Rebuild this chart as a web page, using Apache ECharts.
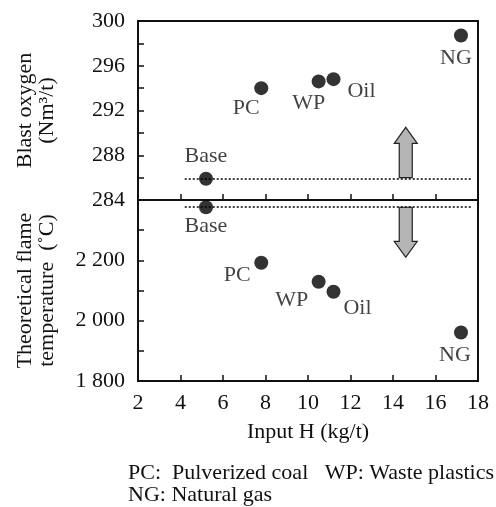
<!DOCTYPE html>
<html>
<head>
<meta charset="utf-8">
<script src="https://cdn.jsdelivr.net/npm/echarts@6/dist/echarts.min.js"></script>
<style>
  html, body { margin: 0; padding: 0; background: #fff; }
  #main { width: 496px; height: 507px; }
</style>
</head>
<body>
<div id="main"></div>
<script>
// data
var fuels = ['Base', 'PC', 'WP', 'Oil', 'NG'];
var inputH = [5.2, 7.8, 10.5, 11.2, 17.2];
var blastOxygen = [285.9, 294.0, 294.6, 294.8, 298.7];
var flameTemp = [2376, 2192, 2129, 2096, 1961];
var baseLineX = [4.2, 17.7];
var arrowX = 14.6;
var oxygenArrow = [286, 290.5];
var tempArrow = [2376, 2210];

// where each label sits relative to its dot (px)
var topOffsets = { Base: [0, -23], PC: [-15, 20], WP: [-10, 22], Oil: [28, 12], NG: [-5, 23] };
var bottomOffsets = { Base: [0, 19], PC: [-24, 12], WP: [-27, 18], Oil: [24, 17], NG: [-6, 23] };

var FONT = 'Liberation Serif';
var INK = '#111';

var myChart = echarts.init(document.getElementById('main'), null, { renderer: 'canvas' });

function points(ys, offsets) {
  return fuels.map(function (name, i) {
    return {
      name: name,
      value: [inputH[i], ys[i]],
      label: { offset: offsets[name] }
    };
  });
}

function arrow(params, api) {
  var p0 = api.coord([api.value(0), api.value(1)]);
  var p1 = api.coord([api.value(0), api.value(2)]);
  var dir = p1[1] < p0[1] ? -1 : 1;
  var cx = p0[0];
  var yh = p1[1] - dir * 16;
  return {
    type: 'polygon',
    shape: {
      points: [
        [cx - 6.5, p0[1]], [cx - 6.5, yh], [cx - 11.5, yh], [cx, p1[1]],
        [cx + 11.5, yh], [cx + 6.5, yh], [cx + 6.5, p0[1]]
      ]
    },
    style: { fill: '#b5b5b5', stroke: '#222', lineWidth: 1.2 }
  };
}

function thousands(v) {
  return String(v).replace(/(\d)(\d{3})$/, '$1 $2');
}

var tickStyle = { show: true, inside: true, length: 6, lineStyle: { color: INK, width: 1.5 } };
var lineStyle = { show: true, lineStyle: { color: INK, width: 2 } };

var option = {
  animation: false,
  textStyle: { fontFamily: FONT, color: INK },
  grid: [
    { left: 138, right: 18, top: 21, height: 179, show: true, borderColor: INK, borderWidth: 2 },
    { left: 138, right: 18, top: 200, height: 181, show: true, borderColor: INK, borderWidth: 2 }
  ],
  xAxis: [
    {
      gridIndex: 0, type: 'value', min: 2, max: 18, interval: 2,
      axisLine: lineStyle, axisTick: tickStyle,
      axisLabel: { show: false }, splitLine: { show: false }
    },
    {
      gridIndex: 1, type: 'value', min: 2, max: 18, interval: 2,
      axisLine: lineStyle, axisTick: tickStyle,
      axisLabel: { fontFamily: FONT, fontSize: 22, color: INK, margin: 11 },
      splitLine: { show: false },
      name: 'Input H (kg/t)', nameLocation: 'middle', nameGap: 40,
      nameTextStyle: { fontFamily: FONT, fontSize: 22, color: INK }
    }
  ],
  yAxis: [
    {
      gridIndex: 0, type: 'value', min: 284, max: 300, interval: 4,
      axisLine: lineStyle, axisTick: tickStyle,
      minorTick: { show: true, splitNumber: 2, length: 6, lineStyle: { color: INK, width: 1.5 } },
      axisLabel: { fontFamily: FONT, fontSize: 22, color: INK, margin: 13 },
      splitLine: { show: false },
      name: 'Blast oxygen\n(Nm³/t)', nameLocation: 'middle', nameGap: 80,
      nameTextStyle: { fontFamily: FONT, fontSize: 22, lineHeight: 22, color: INK }
    },
    {
      gridIndex: 1, type: 'value', min: 1800, max: 2400, interval: 200,
      axisLine: lineStyle, axisTick: tickStyle,
      minorTick: { show: true, splitNumber: 2, length: 6, lineStyle: { color: INK, width: 1.5 } },
      axisLabel: {
        fontFamily: FONT, fontSize: 22, color: INK, margin: 13,
        formatter: function (v) { return v >= 2400 ? '' : thousands(v); }
      },
      splitLine: { show: false },
      name: 'Theoretical flame\ntemperature  (˚C)', nameLocation: 'middle', nameGap: 80,
      nameTextStyle: { fontFamily: FONT, fontSize: 22, lineHeight: 22, color: INK }
    }
  ],
  series: [
    {
      type: 'scatter', xAxisIndex: 0, yAxisIndex: 0,
      symbolSize: 14, itemStyle: { color: '#000' },
      label: { show: true, position: 'inside', formatter: '{b}', fontFamily: FONT, fontSize: 22, color: INK },
      data: points(blastOxygen, topOffsets),
      markLine: {
        silent: true, symbol: 'none', label: { show: false },
        lineStyle: { color: '#000', type: [2, 2], width: 1.6 },
        data: [[{ coord: [baseLineX[0], blastOxygen[0]] }, { coord: [baseLineX[1], blastOxygen[0]] }]]
      },
      z: 3
    },
    {
      type: 'scatter', xAxisIndex: 1, yAxisIndex: 1,
      symbolSize: 14, itemStyle: { color: '#000' },
      label: { show: true, position: 'inside', formatter: '{b}', fontFamily: FONT, fontSize: 22, color: INK },
      data: points(flameTemp, bottomOffsets),
      markLine: {
        silent: true, symbol: 'none', label: { show: false },
        lineStyle: { color: '#000', type: [2, 2], width: 1.6 },
        data: [[{ coord: [baseLineX[0], flameTemp[0]] }, { coord: [baseLineX[1], flameTemp[0]] }]]
      },
      z: 3
    },
    {
      type: 'custom', xAxisIndex: 0, yAxisIndex: 0, renderItem: arrow,
      encode: { x: 0, y: [1, 2] }, silent: true,
      data: [[arrowX, oxygenArrow[0], oxygenArrow[1]]], z: 4
    },
    {
      type: 'custom', xAxisIndex: 1, yAxisIndex: 1, renderItem: arrow,
      encode: { x: 0, y: [1, 2] }, silent: true,
      data: [[arrowX, tempArrow[0], tempArrow[1]]], z: 4
    }
  ],
  graphic: [
    {
      type: 'text', left: 128, top: 462,
      style: {
        text: 'PC:  Pulverized coal   WP: Waste plastics\nNG: Natural gas',
        font: '22px "' + FONT + '"', lineHeight: 22, fill: INK
      }
    }
  ]
};

myChart.setOption(option);
</script>
</body>
</html>
